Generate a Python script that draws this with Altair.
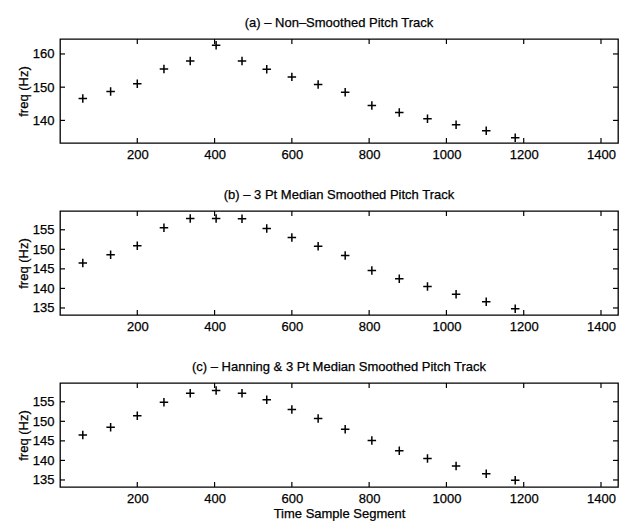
import altair as alt
import pandas as pd

# Time sample segment positions
segments = [59, 131, 200, 269, 337, 404, 471, 535, 600, 668, 738, 807, 878, 951, 1025, 1103, 1178]

# (a) non-smoothed pitch track (Hz)
freq_raw = [146.6, 148.7, 151.0, 155.5, 157.9, 162.6, 157.9, 155.4, 153.1, 150.8,
            148.5, 144.5, 142.4, 140.5, 138.7, 136.9, 134.8]
# (b) 3 pt median smoothed
freq_median = [146.5, 148.6, 150.9, 155.5, 157.9, 157.9, 157.8, 155.3, 153.0, 150.8,
               148.4, 144.6, 142.5, 140.5, 138.5, 136.6, 134.8]
# (c) Hanning & 3 pt median smoothed
freq_hanning = [146.5, 148.5, 151.4, 154.9, 157.2, 157.9, 157.2, 155.5, 153.0, 150.7,
                148.0, 145.1, 142.5, 140.5, 138.6, 136.6, 134.9]

titles = ["(a)  \u2013  Non\u2013Smoothed Pitch Track",
          "(b)  \u2013  3 Pt Median Smoothed Pitch Track",
          "(c)  \u2013  Hanning & 3 Pt Median Smoothed Pitch Track"]

x_ticks = [200, 400, 600, 800, 1000, 1200, 1400]
y_ticks_a = [140, 150, 160]
y_ticks_bc = [135, 140, 145, 150, 155]
y_domain_a = [133.2, 164.5]
y_domain_bc = [133.2, 159.8]
x_domain = [0, 1444]

W = 558
H = 104
FONT = "Liberation Sans"
FS = 13
PLUS = "M-1,0L1,0M0,-1L0,1"


def panel(values, title, ydom, yticks, xtitle):
    df = pd.DataFrame({"t": segments, "f": values})
    xs = alt.Scale(domain=x_domain, nice=False, zero=False)
    ys = alt.Scale(domain=ydom, nice=False, zero=False)
    xaxis_kw = dict(values=x_ticks, format="d", ticks=False, domain=False, grid=False,
                    labelPadding=5, labelFontSize=FS, labelFont=FONT,
                    labelColor="black")
    if xtitle:
        xaxis = alt.Axis(title=xtitle, titlePadding=2, titleFontSize=FS,
                         titleFont=FONT, titleFontWeight="normal",
                         titleColor="black", **xaxis_kw)
    else:
        xaxis = alt.Axis(title=None, **xaxis_kw)
    yaxis = alt.Axis(title="freq (Hz)", values=yticks, ticks=False, domain=False,
                     grid=False, labelPadding=6, labelFontSize=FS, labelFont=FONT,
                     labelColor="black", titlePadding=2, titleFontSize=FS,
                     titleFont=FONT, titleFontWeight="normal", titleColor="black")
    X = alt.X("t:Q", scale=xs, axis=xaxis)
    Y = alt.Y("f:Q", scale=ys, axis=yaxis)
    pts = alt.Chart(df).mark_point(shape=PLUS, size=72, strokeWidth=1.5,
                                   color="black", filled=False, opacity=1).encode(x=X, y=Y)
    xt = pd.DataFrame({"t": x_ticks})
    yt = pd.DataFrame({"f": yticks})
    bot = alt.Chart(xt).mark_rule(color="black", strokeWidth=1.2).encode(
        x=X, y=alt.value(H), y2=alt.value(H - 5))
    top = alt.Chart(xt).mark_rule(color="black", strokeWidth=1.2).encode(
        x=X, y=alt.value(0), y2=alt.value(5))
    left = alt.Chart(yt).mark_rule(color="black", strokeWidth=1.2).encode(
        y=Y, x=alt.value(0), x2=alt.value(5))
    right = alt.Chart(yt).mark_rule(color="black", strokeWidth=1.2).encode(
        y=Y, x=alt.value(W), x2=alt.value(W - 5))
    return alt.layer(pts, bot, top, left, right).properties(
        width=W, height=H,
        title=alt.TitleParams(title, fontSize=FS, font=FONT, fontWeight="normal",
                              color="black", offset=8, anchor="middle"),
    )


chart = alt.vconcat(
    panel(freq_raw, titles[0], y_domain_a, y_ticks_a, None),
    panel(freq_median, titles[1], y_domain_bc, y_ticks_bc, None),
    panel(freq_hanning, titles[2], y_domain_bc, y_ticks_bc, "Time Sample Segment"),
    spacing=26,
).properties(
    padding={"left": 16, "top": 16, "right": 0, "bottom": 0},
    background="white",
).configure(
    style={"guide-label": {"stroke": "black", "strokeWidth": 0.25},
           "guide-title": {"stroke": "black", "strokeWidth": 0.25},
           "group-title": {"stroke": "black", "strokeWidth": 0.25}}
).configure_view(stroke="black", strokeWidth=1.3)

chart.save("out.html", embed_options={"renderer": "svg", "actions": False})
